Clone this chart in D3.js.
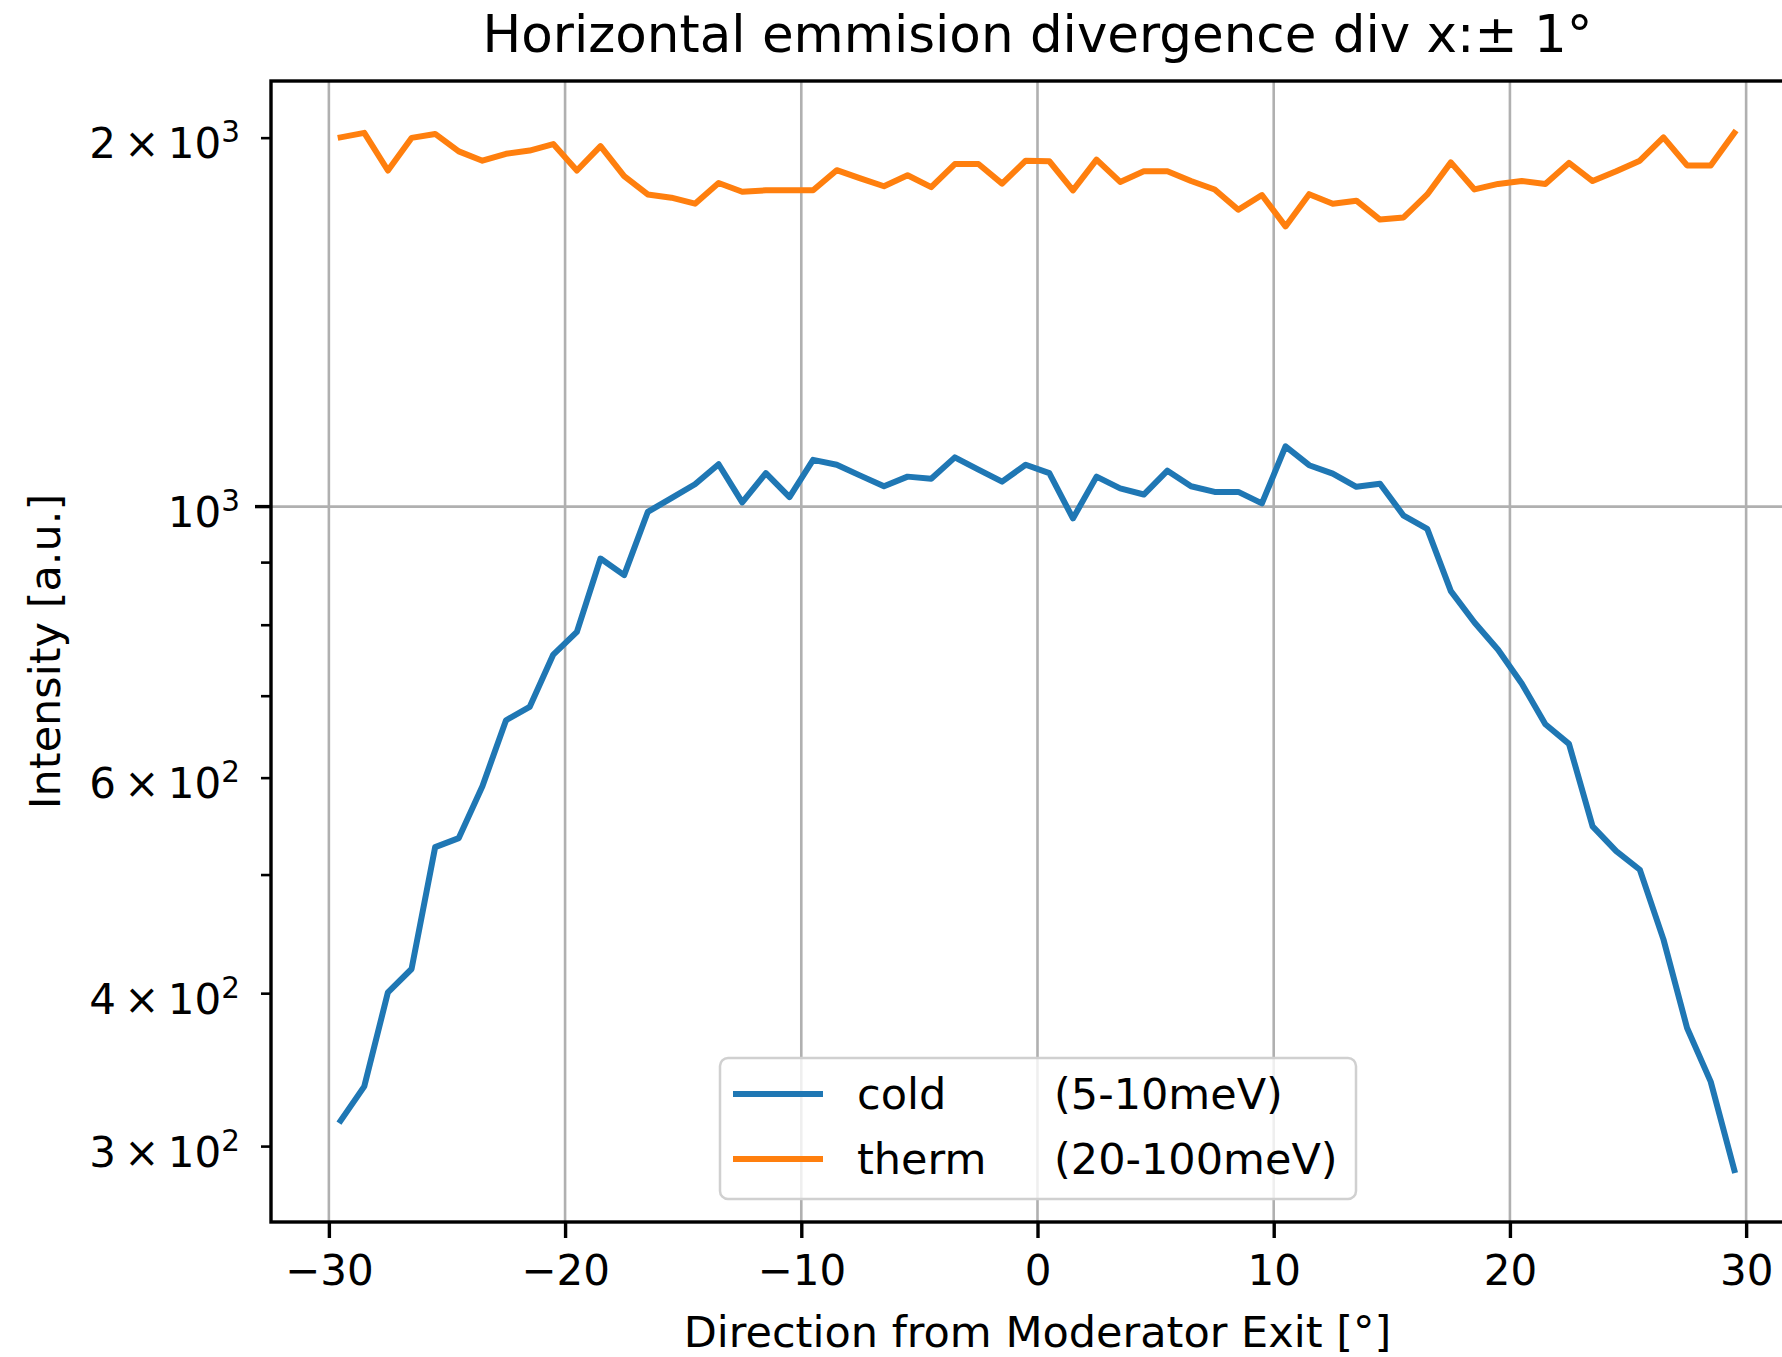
<!DOCTYPE html>
<html>
<head>
<meta charset="utf-8">
<script src="https://cdn.jsdelivr.net/npm/d3@7"></script>
<style>
  html, body { margin: 0; padding: 0; background: #ffffff; overflow: hidden; }
  svg { display: block; }
  text { font-family: "DejaVu Sans", sans-serif; fill: #000; }
</style>
</head>
<body>
<svg id="chart" width="1782" height="1357"></svg>
<script>
// ---------------- data ----------------
const angles = [-29.5,-28.5,-27.5,-26.5,-25.5,-24.5,-23.5,-22.5,-21.5,-20.5,
  -19.5,-18.5,-17.5,-16.5,-15.5,-14.5,-13.5,-12.5,-11.5,-10.5,
  -9.5,-8.5,-7.5,-6.5,-5.5,-4.5,-3.5,-2.5,-1.5,-0.5,
  0.5,1.5,2.5,3.5,4.5,5.5,6.5,7.5,8.5,9.5,
  10.5,11.5,12.5,13.5,14.5,15.5,16.5,17.5,18.5,19.5,
  20.5,21.5,22.5,23.5,24.5,25.5,26.5,27.5,28.5,29.5];

const coldValues = [315,336,401,419,527,536,591,669,686,757,
  790,907,879,990,1016,1043,1083,1008,1065,1018,
  1092,1082,1060,1039,1058,1054,1097,1072,1048,1082,
  1065,978,1058,1035,1023,1070,1039,1028,1028,1006,
  1120,1081,1064,1038,1044,983,959,853,804,764,
  717,664,640,548,523,505,443,375,339,287];

const thermValues = [2003,2020,1882,2001,2016,1951,1917,1942,1954,1978,
  1882,1970,1862,1799,1788,1768,1838,1808,1813,1813,
  1813,1883,1854,1827,1865,1824,1905,1905,1836,1917,
  1915,1813,1921,1842,1879,1879,1845,1816,1748,1797,
  1694,1800,1768,1778,1716,1723,1799,1911,1816,1835,
  1845,1835,1909,1845,1879,1917,2003,1900,1900,2020];

const seriesNames  = ["cold", "therm"];
const seriesRanges = ["(5-10meV)", "(20-100meV)"];
const seriesColors = ["#1f77b4", "#ff7f0e"];

const xTickValues = [-30, -20, -10, 0, 10, 20, 30];
const yMajorTicks = [1000];
const yMinorTicks = [300, 400, 500, 600, 700, 800, 900, 2000];
const yLabelValues = [2000, 1000, 600, 400, 300];
const yLabelMant   = ["2", "", "6", "4", "3"];
const yLabelExp    = ["3", "3", "2", "2", "2"];

const titleText  = "Horizontal emmision divergence div x:\u00b1 1\u00b0";
const xLabelText = "Direction from Moderator Exit [\u00b0]";
const yLabelText = "Intensity [a.u.]";

// ---------------- layout ----------------
const L = 271, R = 1804, T = 81, B = 1222;
const FS = 42, FL = 43;

const svg = d3.select("#chart");
svg.append("rect").attr("width", 1782).attr("height", 1357).attr("fill", "#fff");

// x domain with 5% margins (matplotlib style)
const xMin = d3.min(angles), xMax = d3.max(angles);
const xPad = (xMax - xMin) * 0.05;
const x = d3.scaleLinear().domain([xMin - xPad, xMax + xPad]).range([L, R]);

// y log domain with 5% margins in log space
const allV = coldValues.concat(thermValues);
const lmin = Math.log10(d3.min(allV)), lmax = Math.log10(d3.max(allV));
const lpad = (lmax - lmin) * 0.05;
const y = d3.scaleLog().domain([Math.pow(10, lmin - lpad), Math.pow(10, lmax + lpad)]).range([B, T]);

// grid
const grid = svg.append("g");
grid.selectAll("line.gx").data(xTickValues).join("line")
  .attr("x1", d => x(d)).attr("x2", d => x(d)).attr("y1", T).attr("y2", B)
  .attr("stroke", "#b0b0b0").attr("stroke-width", 2.6);
grid.selectAll("line.gy").data(yMajorTicks).join("line")
  .attr("y1", d => y(d)).attr("y2", d => y(d)).attr("x1", L).attr("x2", R)
  .attr("stroke", "#b0b0b0").attr("stroke-width", 2.6);

// lines
const series = [coldValues, thermValues];
const line = d3.line().x((d, i) => x(angles[i])).y(d => y(d));
svg.append("g").selectAll("path").data(series).join("path")
  .attr("d", d => line(d))
  .attr("fill", "none")
  .attr("stroke", (d, i) => seriesColors[i])
  .attr("stroke-width", 6)
  .attr("stroke-linejoin", "round")
  .attr("stroke-linecap", "square");

// x axis
const xAxis = d3.axisBottom(x).tickValues(xTickValues).tickSize(16).tickPadding(17)
  .tickFormat(d => d < 0 ? "\u2212" + Math.abs(d) : String(d));
const gx = svg.append("g").attr("transform", `translate(0,${B})`).call(xAxis);
gx.select(".domain").remove();
gx.selectAll(".tick line").attr("stroke", "#000").attr("stroke-width", 3.4);
gx.selectAll(".tick text").attr("font-size", FS).attr("font-family", "DejaVu Sans").attr("fill", "#000");

// y axis ticks
const gy = svg.append("g");
gy.selectAll("line.maj").data(yMajorTicks).join("line")
  .attr("x1", L - 16).attr("x2", L).attr("y1", d => y(d)).attr("y2", d => y(d))
  .attr("stroke", "#000").attr("stroke-width", 3.4);
gy.selectAll("line.min").data(yMinorTicks).join("line")
  .attr("x1", L - 10).attr("x2", L).attr("y1", d => y(d)).attr("y2", d => y(d))
  .attr("stroke", "#000").attr("stroke-width", 2.6);

// y labels with superscripts
yLabelValues.forEach((v, i) => {
  const t = gy.append("text")
    .attr("x", 240).attr("y", y(v) + 20)
    .attr("text-anchor", "end").attr("font-size", FS);
  const base = yLabelMant[i] ? yLabelMant[i] + "\u2009\u00d7\u200910" : "10";
  t.append("tspan").text(base);
  t.append("tspan").attr("dy", -16).attr("font-size", FS * 0.7).text(yLabelExp[i]);
});

// spines
const sp = svg.append("g").attr("stroke", "#000").attr("stroke-width", 3.4).attr("fill", "none");
sp.append("rect").attr("x", L).attr("y", T).attr("width", R - L).attr("height", B - T);

// title and axis labels
svg.append("text").attr("x", (L + R) / 2).attr("y", 52)
  .attr("text-anchor", "middle").attr("font-size", 51.5).text(titleText);
svg.append("text").attr("x", (L + R) / 2).attr("y", 1347)
  .attr("text-anchor", "middle").attr("font-size", FL).text(xLabelText);
svg.append("text").attr("transform", `translate(60,${(T + B) / 2}) rotate(-90)`)
  .attr("text-anchor", "middle").attr("font-size", FL).text(yLabelText);

// legend
const lg = svg.append("g");
lg.append("rect").attr("x", 720).attr("y", 1058).attr("width", 636).attr("height", 141)
  .attr("rx", 8).attr("fill", "#fff").attr("fill-opacity", 0.8)
  .attr("stroke", "#d0d0d0").attr("stroke-width", 2.5);
const rowY = [1094, 1159];
seriesNames.forEach((n, i) => {
  lg.append("line").attr("x1", 736).attr("x2", 820).attr("y1", rowY[i]).attr("y2", rowY[i])
    .attr("stroke", seriesColors[i]).attr("stroke-width", 6).attr("stroke-linecap", "square");
  lg.append("text").attr("x", 857).attr("y", rowY[i] + 15).attr("font-size", FL).text(n);
  lg.append("text").attr("x", 1054).attr("y", rowY[i] + 15).attr("font-size", FL).text(seriesRanges[i]);
});
</script>
</body>
</html>
